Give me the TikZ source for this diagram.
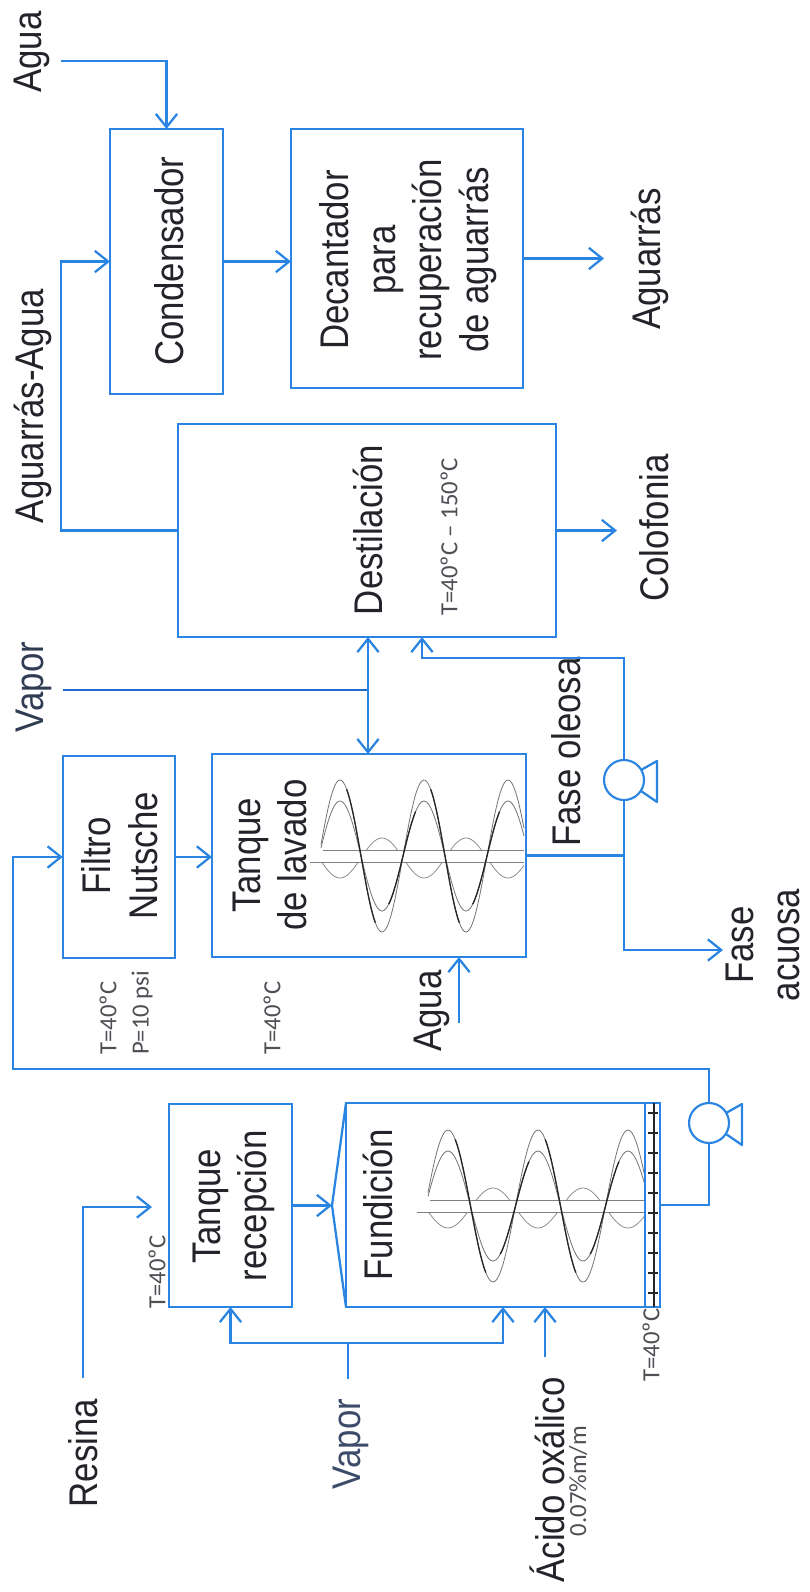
\documentclass[tikz,border=0pt]{standalone}
\usepackage{fontspec}
\setmainfont[FakeStretch=.87]{Liberation Sans}
\newfontfamily\calibrilike{Carlito}
\usetikzlibrary{arrows.meta}

\definecolor{flowblue}{RGB}{42,133,226}
\definecolor{darkflow}{RGB}{30,105,205}
\definecolor{inktext}{RGB}{35,35,42}
\definecolor{vaporink}{RGB}{60,75,105}

% helix of a stirrer: first peak, axis y, period, start x, end x
\newcommand{\agitador}[5]{
  \draw[black!45,line width=.6pt,domain=#4:#5,samples=90] plot (\x,{#2+2+20*cos((\x-#1)/#3*360)});
  \fill[white] (#4-11,#2-6) rectangle (#5,#2+6);
  \draw[black!50,line width=.6pt] (#4-11,#2+6) -- (#5,#2+6);
  \draw[black!50,line width=.6pt] (#4+2,#2-6) -- (#5,#2-6);
  \draw[black!55,line width=.6pt,domain=#4:#5,samples=120] plot (\x,{#2-76*cos((\x-#1)/#3*360)});
  \draw[black!55,line width=.6pt,domain=#4:#5,samples=120] plot (\x,{#2-55*cos((\x-#1)/#3*360)});
  \foreach \k in {0,1} {
    \draw[black!85,line width=1pt,domain=#1+\k*#3+.08*#3:#1+\k*#3+.42*#3,samples=30] plot (\x,{#2-76*cos((\x-#1)/#3*360)});
    \draw[black!85,line width=1pt,domain=#1+\k*#3+.58*#3:#1+\k*#3+.9*#3,samples=30] plot (\x,{#2-55*cos((\x-#1)/#3*360)});
  }
}

\begin{document}
\begin{tikzpicture}[x=.75pt,y=-.75pt,
    box/.style={rectangle,draw=flowblue,line width=1.4pt,inner sep=0pt,outer sep=0pt},
    lbl/.style={rotate=90,align=center,text=inktext,inner sep=0pt,font=\fontsize{30}{35}\selectfont},
    note/.style={rotate=90,align=center,text=inktext!80,inner sep=0pt,font=\calibrilike\fontsize{18.5}{22}\selectfont},
    pump/.style={circle,draw=flowblue,line width=1.6pt,fill=white,minimum size=30pt,inner sep=0pt,outer sep=0pt},
    flow/.style={draw=flowblue,line width=1.7pt},
    into/.style={flow,-{Straight Barb[length=10pt,width=16pt,line width=1.7pt]}}]

\useasboundingbox (0,0) rectangle (810,1592);

% boxes
\node[box,minimum width=84.75pt,minimum height=198.75pt] (cond) at (166.5,261.5) {};
\node[box,minimum width=174pt,minimum height=194.25pt] (dec) at (407,258.5) {};
\node[box,minimum width=283.5pt,minimum height=159.75pt] (dest) at (367,530.5) {};
\node[box,minimum width=84.4pt,minimum height=151.5pt] (filtro) at (119,857) {};
\node[box,minimum width=235.5pt,minimum height=152.25pt] (lav) at (369,855.5) {};
\node[box,minimum width=92.25pt,minimum height=152.25pt] (rec) at (230.5,1205.5) {};
\node[box,minimum width=235.5pt,minimum height=153pt] (fund) at (503,1205) {};

\node[pump] (pumpa) at (624,780) {};
\node[pump] (pumpb) at (709,1123) {};

% texts in the boxes
\node[lbl] (condtxt) at (169,261) {Condensador};
\node[lbl] (dectxt) at (408,260) {Decantador\\para\\recuperación\\de aguarrás};
\node[lbl] (desttxt) at (368,530) {Destilación};
\node[note] (destnote) at (449,537) {T=40ºC – 150ºC};
\node[lbl] (filtrotxt) at (120,856) {Filtro\\Nutsche};
\node[lbl] (lavtxt) at (270,855) {Tanque\\de lavado};
\node[lbl] (rectxt) at (234,1206) {Tanque\\recepción};
\node[lbl] (fundtxt) at (378,1205) {Fundición};

% streams
\node[lbl] (aguaa) at (32,52) {Agua};
\node[lbl] (mezcla) at (33,406) {Aguarrás-Agua};
\node[lbl] (aguarras) at (650,259) {Aguarrás};
\node[lbl] (colofonia) at (654,528) {Colofonia};
\node[lbl,text=vaporink!80!black] (vapora) at (34,687) {Vapor};
\node[lbl] (oleosa) at (566,752) {Fase oleosa};
\node[lbl] (acuosa) at (763,945) {Fase\\acuosa};
\node[lbl] (aguab) at (432,1011) {Agua};
\node[lbl] (resina) at (83,1453) {Resina};
\node[lbl,text=vaporink] (vaporb) at (351,1444) {Vapor};
\node[lbl] (acido) at (547,1480) {Ácido oxálico};
\node[note] (acidonote) at (578,1481) {0.07\%m/m};

% conditions
\node[note] (filtrot) at (108,1018) {T=40ºC};
\node[note] (filtrop) at (142,1013) {P=10 psi};
\node[note] (lavt) at (272,1018) {T=40ºC};
\node[note] (rect) at (157,1272) {T=40ºC};
\node[note] (fundt) at (651,1345) {T=40ºC};

% free ends and bends
\coordinate (aguaaout) at (61,61);
\coordinate (bendmezcla) at (61,530.5);
\coordinate (aguarrasend) at (604,258.5);
\coordinate (colofoniaend) at (617,530.5);
\coordinate (vaporaout) at (63,690);
\coordinate (vaporajoin) at (368,690);
\coordinate (joinfase) at (624,855.5);
\coordinate (bendoleosa) at (422,658);
\coordinate (destin) at (422,637);
\coordinate (acuosaend) at (723,950);
\coordinate (bendfiltro) at (13,1069);
\coordinate (aguabout) at (459,1023);
\coordinate (aguabin) at (459,957);
\coordinate (apex) at (332,1205.5);
\coordinate (resinaout) at (83,1378);
\coordinate (resinain) at (152,1207);
\coordinate (vaporbout) at (348,1379);
\coordinate (vaporbjoin) at (348,1343);
\coordinate (fundvapor) at (503,1307);
\coordinate (acidoout) at (545,1357);
\coordinate (acidoin) at (545,1307);

\draw[into] (aguaaout) -| (cond.north);
\draw[into] (dest.west) -- (bendmezcla) |- (cond.west);
\draw[into] (cond.east) -- (cond.east -| dec.west);
\draw[into] (dec.east) -- (aguarrasend);
\draw[into] (dest.east) -- (colofoniaend);
\draw[draw=darkflow,line width=2pt] (vaporaout) -- (vaporajoin);
\draw[into] (vaporajoin) -- (vaporajoin |- dest.south);
\draw[into] (vaporajoin) -- (vaporajoin |- lav.north);
\draw[into] (filtro.east) -- (filtro.east -| lav.west);
\draw[flow] (lav.east) -- (joinfase) -- (pumpa.south);
\draw[into] (pumpa.north) |- (bendoleosa) -- (destin);
\draw[into] (joinfase) |- (acuosaend);
\draw[into] (aguabout) -- (aguabin);
\draw[into] (pumpb.north) |- (bendfiltro) |- (filtro.west);
\draw[flow] (fund.east) -| (pumpb.south);
\draw[into] (resinaout) |- (resinain);
\draw[into] (rec.east) -- (apex);
\draw[flow] (fund.north west) -- (apex) -- (fund.south west);
\draw[flow] (vaporbout) -- (vaporbjoin);
\draw[into] (vaporbjoin) -| (rec.south);
\draw[into] (vaporbjoin) -| (fundvapor);
\draw[into] (acidoout) -- (acidoin);

% pump feet
\foreach \p in {pumpa,pumpb}
  \draw[flow,line join=round] ([shift={(17,-10)}]\p.center) -- ([shift={(33,-19)}]\p.center)
    -- ([shift={(33,22)}]\p.center) -- ([shift={(17,11)}]\p.center);

% stirrers
\agitador{340}{856}{84}{321}{524}
\agitador{448}{1206}{90}{428}{645}

% grid at the end of the melting tank
\draw[box] (645,1103) rectangle (fund.south east);
\draw[black!85,line width=.9pt] (654,1103) -- (654,1307);
\foreach \y in {1113,1133,...,1293}
  \draw[black!85,line width=.9pt] (648,\y) -- (658,\y);
\end{tikzpicture}
\end{document}
